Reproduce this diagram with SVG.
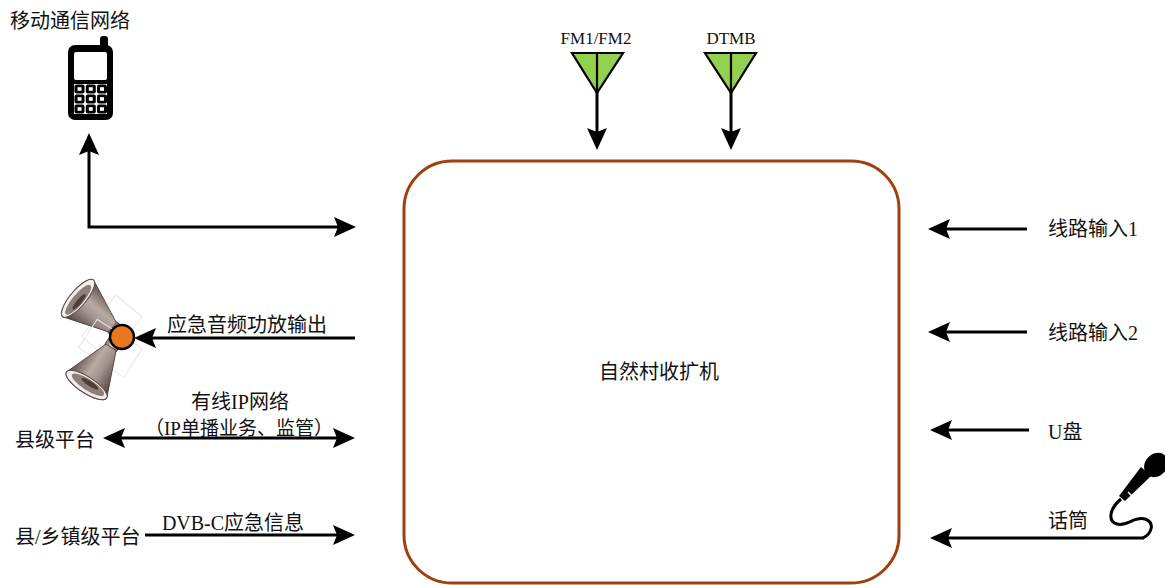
<svg xmlns="http://www.w3.org/2000/svg" width="1165" height="585" viewBox="0 0 1165 585">
  <style>
    text { font-family: "Liberation Serif", "Noto Sans CJK SC", serif; fill: #111; }
    .lbl { font-size: 20px; }
    .ant { font-size: 17px; }
    .wire { fill: none; stroke: #000; stroke-width: 3; }
    .arr { marker-end: url(#head); }
    .both { marker-start: url(#head); marker-end: url(#head); }
    .antenna { fill: #92D050; stroke: #000; stroke-width: 2.2; stroke-linejoin: miter; }
  </style>
  <defs>
    <marker id="head" viewBox="0 0 22 20" refX="18" refY="10" markerWidth="22" markerHeight="20" markerUnits="userSpaceOnUse" orient="auto-start-reverse">
      <path d="M0,0 L22,10 L0,20 L4,10 Z" fill="#000"/>
    </marker>
    <linearGradient id="cone" x1="0" y1="0" x2="0" y2="1">
      <stop offset="0" stop-color="#5a4843"/>
      <stop offset="0.4" stop-color="#b9aaa4"/>
      <stop offset="0.6" stop-color="#a39390"/>
      <stop offset="1" stop-color="#4e3d38"/>
    </linearGradient>
    <linearGradient id="driver" x1="0" y1="0" x2="0" y2="1">
      <stop offset="0" stop-color="#7d6d68"/>
      <stop offset="0.5" stop-color="#ded5d1"/>
      <stop offset="1" stop-color="#6a5a55"/>
    </linearGradient>
    <!-- one horn, throat at origin, mouth towards -x -->
    <g id="horn">
      <rect x="-16" y="-27" width="34" height="54" fill="none" stroke="#ebe6e4" stroke-width="1"/>
      <rect x="0" y="-7" width="11" height="14" rx="2" fill="url(#driver)" stroke="#5a4a45" stroke-width="0.8"/>
      <path d="M2,-6 L-43,-24 A8,24 0 0 0 -43,24 L2,6 Z" fill="url(#cone)" stroke="#4a3a35" stroke-width="0.8"/>
      <ellipse cx="-43" cy="0" rx="8" ry="24" fill="#f3eeec" stroke="#5a4a45" stroke-width="1"/>
      <ellipse cx="-42" cy="1" rx="5.5" ry="19" fill="#8f7f79"/>
      <ellipse cx="-40" cy="2" rx="2.5" ry="10" fill="#4e3e39"/>
    </g>
  </defs>

  <!-- central receiver/amplifier -->
  <g id="receiver">
    <rect x="404" y="161" width="495" height="422" rx="48" ry="48" fill="#fff" stroke="#A0400F" stroke-width="3"/>
    <text class="lbl" x="659" y="379" text-anchor="middle">自然村收扩机</text>
  </g>

  <!-- mobile network -->
  <g id="mobile">
    <text class="lbl" x="10" y="28">移动通信网络</text>
    <rect x="100" y="36" width="8" height="14" rx="3" fill="#000"/>
    <rect x="68" y="45" width="45" height="75" rx="7" fill="#000"/>
    <rect x="74" y="52" width="33" height="28" rx="2" fill="#fff"/>
    <rect x="74" y="84" width="33" height="30" fill="#fff"/>
    <g fill="#000">
      <rect x="74.5" y="84.5" width="10" height="9" rx="2"/>
      <rect x="85.8" y="84.5" width="10" height="9" rx="2"/>
      <rect x="97" y="84.5" width="10" height="9" rx="2"/>
      <rect x="74.5" y="94.5" width="10" height="9" rx="2"/>
      <rect x="85.8" y="94.5" width="10" height="9" rx="2"/>
      <rect x="97" y="94.5" width="10" height="9" rx="2"/>
      <rect x="74.5" y="104.5" width="10" height="9" rx="2"/>
      <rect x="85.8" y="104.5" width="10" height="9" rx="2"/>
      <rect x="97" y="104.5" width="10" height="9" rx="2"/>
    </g>
    <g fill="#fff">
      <rect x="77.5" y="87.2" width="4" height="3.6"/>
      <rect x="88.8" y="87.2" width="4" height="3.6"/>
      <rect x="100" y="87.2" width="4" height="3.6"/>
      <rect x="77.5" y="97.2" width="4" height="3.6"/>
      <rect x="88.8" y="97.2" width="4" height="3.6"/>
      <rect x="100" y="97.2" width="4" height="3.6"/>
      <rect x="77.5" y="107.2" width="4" height="3.6"/>
      <rect x="88.8" y="107.2" width="4" height="3.6"/>
      <rect x="100" y="107.2" width="4" height="3.6"/>
    </g>
  </g>

  <!-- broadcast antennas -->
  <g id="fm">
    <text class="ant" x="596" y="44" text-anchor="middle">FM1/FM2</text>
    <polygon class="antenna" points="572,53 623,53 597,93"/>
    <line x1="597" y1="53" x2="597" y2="93" stroke="#000" stroke-width="2.2"/>
  </g>
  <g id="dtmb">
    <text class="ant" x="731" y="44" text-anchor="middle">DTMB</text>
    <polygon class="antenna" points="705,53 756,53 731,93"/>
    <line x1="731" y1="53" x2="731" y2="93" stroke="#000" stroke-width="2.2"/>
  </g>

  <!-- loudspeakers -->
  <g id="speakers">
    <use href="#horn" transform="translate(111,326) rotate(40)"/>
    <use href="#horn" transform="translate(110,349) rotate(-57)"/>
    <circle cx="122" cy="337" r="12" fill="#E87722" stroke="#000" stroke-width="2.5"/>
  </g>

  <!-- right-hand inputs -->
  <g id="line-in-1"><text class="lbl" x="1048" y="236">线路输入1</text></g>
  <g id="line-in-2"><text class="lbl" x="1048" y="340">线路输入2</text></g>
  <g id="usb"><text class="lbl" x="1048" y="439">U盘</text></g>
  <g id="microphone">
    <text class="lbl" x="1048" y="528">话筒</text>
    <ellipse cx="1156" cy="465" rx="11" ry="13" transform="rotate(42 1156 465)" fill="#000"/>
    <polygon points="1141,467 1151,476 1125,501 1119,496" fill="#000"/>
    <line x1="1128" y1="492" x2="1134" y2="498" stroke="#fff" stroke-width="1.5"/>
    <path d="M1121,499 C1110,508 1107,521 1117,524 C1127,527 1134,516 1145,519 C1156,523 1151,534 1143,538" fill="none" stroke="#000" stroke-width="3"/>
  </g>

  <!-- left-hand platforms -->
  <g id="county">
    <text class="lbl" x="15" y="447">县级平台</text>
    <text class="lbl" x="240" y="409" text-anchor="middle">有线IP网络</text>
    <text class="lbl" x="239" y="435" text-anchor="middle" style="font-size:19px">（IP单播业务、监管）</text>
  </g>
  <g id="township">
    <text class="lbl" x="15" y="544">县/乡镇级平台</text>
    <text class="lbl" x="233" y="530" text-anchor="middle">DVB-C应急信息</text>
  </g>
  <g id="pa-label">
    <text class="lbl" x="167" y="332">应急音频功放输出</text>
  </g>

  <!-- connectors -->
  <g id="connectors">
    <path class="wire both" d="M89,137 L89,227 L352,227"/>
    <line class="wire arr" x1="597" y1="92" x2="597" y2="146"/>
    <line class="wire arr" x1="731" y1="92" x2="731" y2="146"/>
    <line class="wire arr" x1="1027" y1="229" x2="932" y2="229"/>
    <line class="wire arr" x1="1027" y1="332" x2="932" y2="332"/>
    <line class="wire arr" x1="1029" y1="430" x2="934" y2="430"/>
    <line class="wire arr" x1="1144" y1="538" x2="934" y2="538"/>
    <line class="wire arr" x1="355" y1="338" x2="138" y2="338"/>
    <line class="wire both" x1="107" y1="438" x2="351" y2="438"/>
    <line class="wire arr" x1="145" y1="535" x2="351" y2="535"/>
  </g>
</svg>
